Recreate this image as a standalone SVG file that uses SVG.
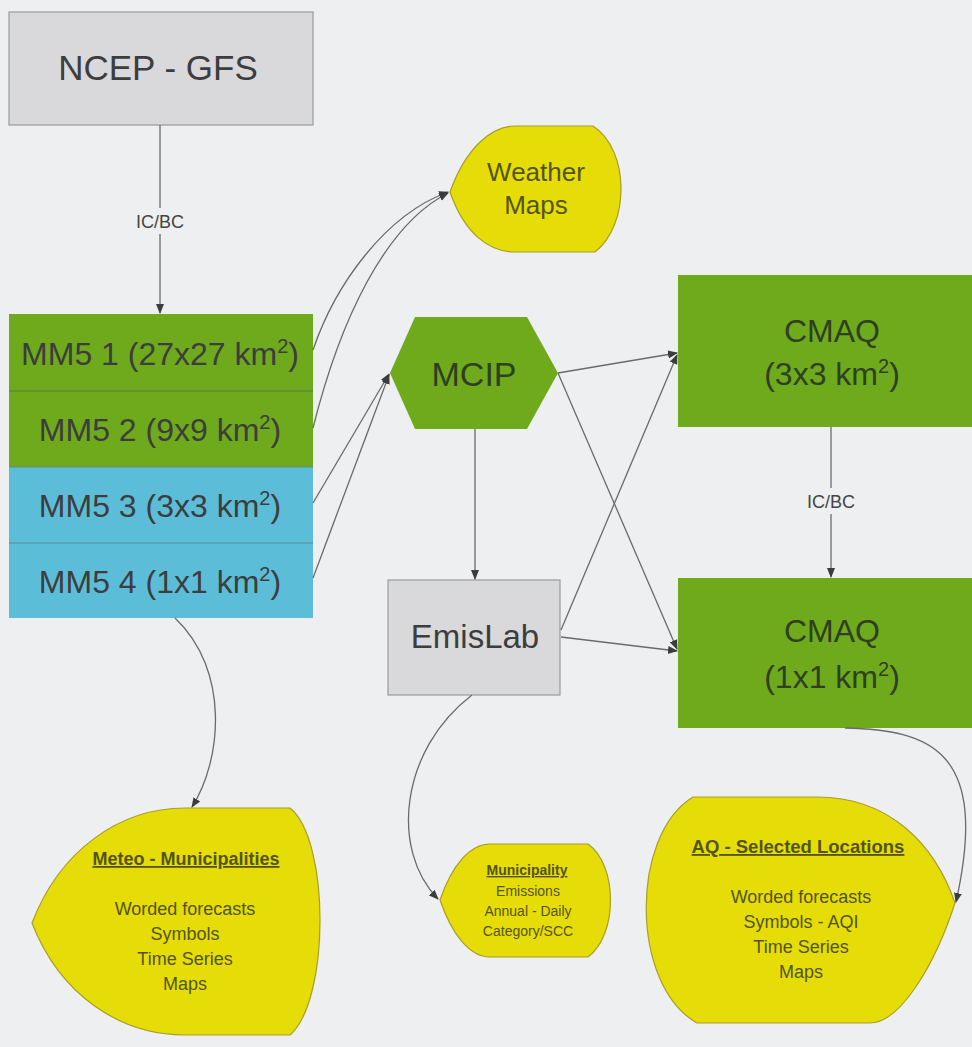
<svg xmlns="http://www.w3.org/2000/svg" width="972" height="1047" viewBox="0 0 972 1047">
<defs>
<marker id="ah" viewBox="0 0 10 10" refX="9" refY="5" markerWidth="10" markerHeight="10" markerUnits="userSpaceOnUse" orient="auto">
<path d="M0,1 L10,5 L0,9 Z" fill="#3c3c3c"/>
</marker>
<style>
.bg{fill:#eeeff1}
.gray{fill:#d9d9dc;stroke:#9a9a9a;stroke-width:1.2}
.green{fill:#6eaa1c}
.blue{fill:#5cbdd9}
.yel{fill:#e6dc08;stroke:#a89e2a;stroke-width:1.2}
.sep{stroke:#5b7f3a;stroke-width:1.2}
.t{font-family:"Liberation Sans",Arial,sans-serif;fill:#3d3d3d;text-anchor:middle}
.tg{font-family:"Liberation Sans",Arial,sans-serif;fill:#2f3f22;text-anchor:middle}
.ty{font-family:"Liberation Sans",Arial,sans-serif;fill:#545412;text-anchor:middle}
.lab{font-family:"Liberation Sans",Arial,sans-serif;fill:#444;text-anchor:middle;font-size:18px}
.c{fill:none;stroke:#6a6a6a;stroke-width:1.3}
.ca{fill:none;stroke:#6a6a6a;stroke-width:1.3;marker-end:url(#ah)}
</style>
</defs>
<rect class="bg" x="0" y="0" width="972" height="1047"/>

<g id="ncep">
<rect class="gray" x="9" y="12" width="304" height="113"/>
<text class="t" x="158" y="80" font-size="35">NCEP - GFS</text>
</g>

<g id="mm5">
<rect class="green" x="9" y="314" width="304" height="153"/>
<rect class="blue" x="9" y="467" width="304" height="151"/>
<line class="sep" x1="9" y1="391" x2="313" y2="391"/>
<line x1="9" y1="467" x2="313" y2="467" stroke="#6b8a7a" stroke-width="1.2"/>
<line x1="9" y1="543" x2="313" y2="543" stroke="#5c8a9c" stroke-width="1.2"/>
<text class="t" x="160" y="365" font-size="32">MM5 1 (27x27 km<tspan dy="-12" font-size="20">2</tspan><tspan dy="12">)</tspan></text>
<text class="t" x="160" y="441" font-size="32">MM5 2 (9x9 km<tspan dy="-12" font-size="20">2</tspan><tspan dy="12">)</tspan></text>
<text class="t" x="160" y="517" font-size="32">MM5 3 (3x3 km<tspan dy="-12" font-size="20">2</tspan><tspan dy="12">)</tspan></text>
<text class="t" x="160" y="593" font-size="32">MM5 4 (1x1 km<tspan dy="-12" font-size="20">2</tspan><tspan dy="12">)</tspan></text>
</g>

<g id="weather">
<path class="yel" d="M450,192 C465,150 490,126 515,126 L593,126 C630,150 630,225 595,252 L515,252 C490,252 465,235 450,192 Z"/>
<text class="ty" x="536" y="181" font-size="26">Weather</text>
<text class="ty" x="536" y="214" font-size="26">Maps</text>
</g>

<g id="mcip">
<polygon points="390,373 415,317 527,317 558,373 527,429 415,429" fill="#6eaa1c"/>
<text class="tg" x="474" y="386" font-size="34">MCIP</text>
</g>

<g id="emislab">
<rect class="gray" x="388" y="580" width="172" height="115"/>
<text class="t" x="475" y="648" font-size="33">EmisLab</text>
</g>

<g id="cmaq3">
<rect class="green" x="678" y="275" width="294" height="152"/>
<text class="tg" x="832" y="342" font-size="32">CMAQ</text>
<text class="tg" x="832" y="385" font-size="32">(3x3 km<tspan dy="-12" font-size="20">2</tspan><tspan dy="12">)</tspan></text>
</g>

<g id="cmaq1">
<rect class="green" x="678" y="578" width="294" height="150"/>
<text class="tg" x="832" y="642" font-size="32">CMAQ</text>
<text class="tg" x="832" y="688" font-size="32">(1x1 km<tspan dy="-12" font-size="20">2</tspan><tspan dy="12">)</tspan></text>
</g>

<g id="meteo">
<path class="yel" d="M32,923 C60,850 120,808 185,808 L290,808 C330,840 330,1000 290,1035 L185,1035 C120,1035 60,995 32,923 Z"/>
<text class="ty" x="186" y="865" font-size="18" font-weight="bold" text-decoration="underline">Meteo - Municipalities</text>
<text class="ty" x="185" y="915" font-size="18">Worded forecasts</text>
<text class="ty" x="185" y="940" font-size="18">Symbols</text>
<text class="ty" x="185" y="965" font-size="18">Time Series</text>
<text class="ty" x="185" y="990" font-size="18">Maps</text>
</g>

<g id="municipality">
<path class="yel" d="M440,900 C452,865 470,844 490,844 L588,844 C618,865 618,935 588,957 L490,957 C470,957 452,935 440,900 Z"/>
<text class="ty" x="527" y="875" font-size="14" font-weight="bold" text-decoration="underline">Municipality</text>
<text class="ty" x="528" y="896" font-size="14">Emissions</text>
<text class="ty" x="528" y="916" font-size="14">Annual - Daily</text>
<text class="ty" x="528" y="936" font-size="14">Category/SCC</text>
</g>

<g id="aq">
<path class="yel" d="M693,797 L817,797 C890,797 935,845 955,903 C935,965 900,1023 870,1023 L697,1023 C630,985 630,835 693,797 Z"/>
<text class="ty" x="798" y="853" font-size="18.5" font-weight="bold" text-decoration="underline">AQ - Selected Locations</text>
<text class="ty" x="801" y="903" font-size="18">Worded forecasts</text>
<text class="ty" x="801" y="928" font-size="18">Symbols - AQI</text>
<text class="ty" x="801" y="953" font-size="18">Time Series</text>
<text class="ty" x="801" y="978" font-size="18">Maps</text>
</g>

<g id="connectors">
<line class="c" x1="160" y1="125" x2="160" y2="208"/>
<line class="ca" x1="160" y1="234" x2="160" y2="313"/>
<text class="lab" x="160" y="228">IC/BC</text>
<line class="c" x1="831" y1="427" x2="831" y2="488"/>
<line class="ca" x1="831" y1="514" x2="831" y2="577"/>
<text class="lab" x="831" y="508">IC/BC</text>
<path class="ca" d="M313,350 C335,285 385,215 448,192"/>
<path class="ca" d="M313,428 C340,320 385,225 448,193"/>
<line class="ca" x1="313" y1="503" x2="389" y2="374"/>
<line class="ca" x1="313" y1="578" x2="389" y2="375"/>
<line class="ca" x1="475" y1="429" x2="475" y2="579"/>
<line class="ca" x1="558" y1="373" x2="677" y2="353"/>
<line class="ca" x1="561" y1="630" x2="677" y2="355"/>
<line class="ca" x1="558" y1="373" x2="677" y2="649"/>
<line class="ca" x1="561" y1="637" x2="677" y2="651"/>
<path class="ca" d="M175,618 C230,670 222,760 192,807"/>
<path class="ca" d="M472,695 C400,750 390,850 438,899"/>
<path class="ca" d="M845,728 C930,730 990,750 956,902"/>
</g>
</svg>
